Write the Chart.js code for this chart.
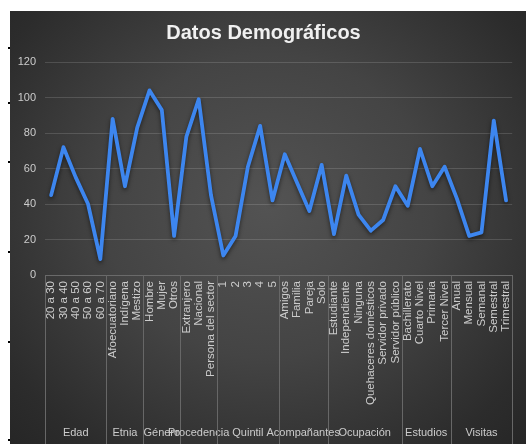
<!DOCTYPE html>
<html>
<head>
<meta charset="utf-8">
<script src="https://cdn.jsdelivr.net/npm/chart.js@4/dist/chart.umd.min.js"></script>
<style>
  html, body { margin: 0; padding: 0; background: #fff; }
  body { width: 526px; height: 444px; position: relative; overflow: hidden; }
  #wrap {
    position: absolute; left: 10px; top: 11px; width: 516px; height: 433px;
    background: radial-gradient(ellipse at 50% 45%, #535353 0%, #444 45%, #2c2c2c 85%, #262626 100%);
  }
  .dash { position: absolute; left: 8px; width: 3px; height: 2px; background: #000; }
</style>
</head>
<body>
<div class="dash" style="top:47px"></div>
<div class="dash" style="top:102px"></div>
<div class="dash" style="top:161px"></div>
<div class="dash" style="top:251px"></div>
<div class="dash" style="top:341px"></div>
<div class="dash" style="top:439px"></div>
<div id="wrap"><canvas id="chart"></canvas></div>
<script>
// grupos del eje de categorías y cuántas categorías tiene cada uno
var groups = ['Edad', 'Etnia', 'Género', 'Procedencia', 'Quintil', 'Acompañantes', 'Ocupación', 'Estudios', 'Visitas'];
var groupSizes = [5, 3, 3, 3, 5, 4, 6, 4, 5];

var categories = [
  '20 a 30', '30 a 40', '40 a 50', '50 a 60', '60 a 70',
  'Afoecuatoriano', 'Indígena', 'Mestizo',
  'Hombre', 'Mujer', 'Otros',
  'Extranjero', 'Nacional', 'Persona del sector',
  '1', '2', '3', '4', '5',
  'Amigos', 'Familia', 'Pareja', 'Solo',
  'Estudiante', 'Independiente', 'Ninguna', 'Quehaceres domésticos', 'Servidor privado', 'Servidor público',
  'Bachillerato', 'Cuarto Nivel', 'Primaria', 'Tercer Nivel',
  'Anual', 'Mensual', 'Semanal', 'Semestral', 'Trimestral'
];

var values = [
  45, 72, 55, 40, 9,
  88, 50, 83,
  104, 93, 22,
  78, 99, 45,
  11, 22, 61, 84, 42,
  68, 52, 36, 62,
  23, 56, 34, 25, 31, 50,
  39, 71, 50, 61,
  43, 22, 24, 87, 42
];

var yTicks = [0, 20, 40, 60, 80, 100, 120];

var FONT = "'Liberation Sans', Arial, sans-serif";
var TXT = '#cccccc';

// sombra bajo la línea
var lineShadow = {
  id: 'lineShadow',
  beforeDatasetsDraw: function(chart) {
    var ctx = chart.ctx;
    ctx.save();
    ctx.shadowColor = 'rgba(0,0,0,0.55)';
    ctx.shadowBlur = 4;
    ctx.shadowOffsetY = 2;
  },
  afterDatasetsDraw: function(chart) {
    chart.ctx.restore();
  }
};

// separadores y nombres de grupo bajo las etiquetas
var groupAxis = {
  id: 'groupAxis',
  afterDraw: function(chart) {
    var ctx = chart.ctx;
    var xs = chart.scales.x;
    var band = xs.getPixelForValue(1) - xs.getPixelForValue(0);
    var start = 0;
    ctx.save();
    ctx.strokeStyle = '#676767';
    ctx.lineWidth = 1;
    ctx.fillStyle = TXT;
    ctx.font = '11px ' + FONT;
    ctx.textAlign = 'center';
    ctx.textBaseline = 'middle';
    for (var g = 0; g <= groups.length; g++) {
      var x = Math.round(xs.getPixelForValue(start) - band / 2) + 0.5;
      ctx.beginPath();
      ctx.moveTo(x, xs.top);
      ctx.lineTo(x, chart.height);
      ctx.stroke();
      if (g < groups.length) {
        var mid = (xs.getPixelForValue(start) + xs.getPixelForValue(start + groupSizes[g] - 1)) / 2;
        ctx.fillText(groups[g], mid, chart.height - 11);
        start += groupSizes[g];
      }
    }
    ctx.restore();
  }
};

var ctx = document.getElementById('chart').getContext('2d');
var chart = new Chart(ctx, {
  type: 'line',
  data: {
    labels: categories,
    datasets: [{
      label: 'Datos',
      data: values,
      borderColor: '#3d86ef',
      borderWidth: 3.8,
      borderJoinStyle: 'round',
      borderCapStyle: 'round',
      pointRadius: 0,
      tension: 0,
      fill: false
    }]
  },
  options: {
    responsive: true,
    maintainAspectRatio: false,
    animation: false,
    layout: { padding: { left: 0, right: 9, top: 0, bottom: 0 } },
    plugins: {
      legend: { display: false },
      tooltip: { enabled: false },
      title: {
        display: true,
        text: 'Datos Demográficos',
        color: '#f0f0f0',
        font: { family: FONT, size: 20, weight: 'bold' },
        padding: { top: 10, bottom: 17 }
      }
    },
    scales: {
      y: {
        min: 0,
        max: 120,
        afterBuildTicks: function(s) {
          s.ticks = yTicks.map(function(v) { return { value: v }; });
        },
        afterFit: function(s) { s.width = 35; },
        border: { display: false },
        grid: { color: 'rgba(255,255,255,0.14)', drawTicks: false },
        ticks: { color: TXT, padding: 9, font: { family: FONT, size: 11 } }
      },
      x: {
        offset: true,
        afterFit: function(s) { s.height = 169; },
        border: { display: true, color: '#6a6a6a' },
        grid: { display: false, drawTicks: false },
        ticks: {
          autoSkip: false,
          minRotation: 90,
          maxRotation: 90,
          padding: 6,
          color: TXT,
          font: { family: FONT, size: 11.5 }
        }
      }
    }
  },
  plugins: [lineShadow, groupAxis]
});
</script>
</body>
</html>
